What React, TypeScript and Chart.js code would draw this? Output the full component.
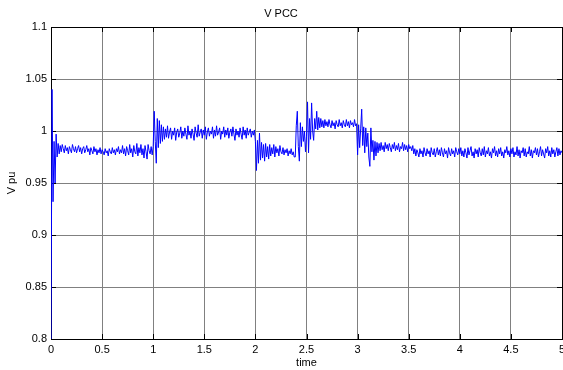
import { useEffect, useRef } from "react";
import { Chart, registerables } from "chart.js";

Chart.register(...registerables);

// Sampling interval of the logged PCC voltage (s)
const SAMPLE_STEP = 0.01;

// PCC voltage in per-unit, one array per second of simulation
const vpcc0to1 = [
  0.800, 1.040, 0.932, 0.990, 0.950, 0.997, 0.975, 0.988, 0.978, 0.986,
  0.980, 0.987, 0.983, 0.979, 0.986, 0.981, 0.984, 0.978, 0.985, 0.982,
  0.979, 0.987, 0.983, 0.980, 0.985, 0.979, 0.983, 0.986, 0.980, 0.984,
  0.978, 0.983, 0.985, 0.979, 0.982, 0.986, 0.980, 0.983, 0.977, 0.984,
  0.981, 0.978, 0.985, 0.980, 0.983, 0.977, 0.982, 0.979, 0.984, 0.978,
  0.982, 0.980, 0.977, 0.983, 0.979, 0.981, 0.976, 0.983, 0.980, 0.978,
  0.984, 0.979, 0.982, 0.977, 0.983, 0.980, 0.985, 0.978, 0.982, 0.979,
  0.986, 0.978, 0.983, 0.976, 0.985, 0.981, 0.977, 0.987, 0.979, 0.983,
  0.975, 0.986, 0.980, 0.978, 0.988, 0.976, 0.984, 0.979, 0.987, 0.977,
  0.983, 0.974, 0.986, 0.980, 0.973, 0.987, 0.981, 0.978, 0.985, 0.977,
];

const vpcc1to2 = [
  0.985, 1.019, 0.990, 0.969, 1.012, 0.984, 1.010, 0.988, 1.006, 0.990,
  1.004, 0.992, 1.002, 0.994, 1.005, 0.993, 0.999, 1.003, 0.992, 1.000,
  0.996, 1.003, 0.991, 0.999, 1.002, 0.994, 0.998, 1.004, 0.993, 1.000,
  0.995, 1.003, 0.997, 0.992, 1.005, 0.996, 1.000, 0.993, 1.002, 0.997,
  0.991, 1.004, 0.998, 0.994, 1.006, 0.995, 0.999, 1.002, 0.993, 1.001,
  0.996, 1.004, 0.992, 0.999, 1.003, 0.995, 1.000, 0.997, 1.004, 0.993,
  1.001, 0.995, 1.005, 0.996, 0.999, 1.003, 0.992, 1.000, 0.997, 1.004,
  0.994, 1.001, 0.996, 1.003, 0.993, 0.999, 1.002, 0.995, 1.004, 0.997,
  0.991, 1.002, 0.996, 1.000, 0.994, 1.003, 0.997, 0.992, 1.004, 0.996,
  1.001, 0.993, 1.003, 0.996, 0.999, 1.002, 0.994, 1.000, 0.996, 1.001,
];

const vpcc2to3 = [
  0.990, 0.962, 0.991, 0.969, 0.998, 0.972, 0.989, 0.974, 0.987, 0.971,
  0.988, 0.975, 0.985, 0.973, 0.987, 0.976, 0.984, 0.978, 0.987, 0.975,
  0.985, 0.979, 0.983, 0.976, 0.986, 0.980, 0.978, 0.984, 0.977, 0.982,
  0.979, 0.983, 0.976, 0.981, 0.978, 0.983, 0.977, 0.980, 0.975, 0.975,
  1.005, 1.019, 0.985, 0.971, 1.008, 0.985, 1.004, 0.990, 1.000, 0.980,
  0.995, 1.028, 0.979, 1.012, 0.992, 1.027, 1.000, 0.991, 1.012, 1.002,
  1.019, 1.001, 1.013, 1.003, 1.012, 1.004, 1.010, 1.003, 1.011, 1.005,
  1.009, 1.004, 1.011, 1.006, 1.003, 1.010, 1.005, 1.008, 1.002, 1.010,
  1.006, 1.004, 1.011, 1.005, 1.008, 1.003, 1.010, 1.006, 1.004, 1.011,
  1.005, 1.009, 1.003, 1.010, 1.006, 1.008, 1.004, 1.011, 1.005, 1.007,
];

const vpcc3to4 = [
  0.977, 1.006, 0.984, 1.002, 1.021, 0.986, 1.004, 0.979, 1.003, 0.985,
  0.998, 0.975, 0.966, 1.003, 0.980, 0.991, 0.972, 0.990, 0.976, 0.989,
  0.979, 0.988, 0.981, 0.989, 0.982, 0.986, 0.980, 0.989, 0.983, 0.987,
  0.981, 0.988, 0.984, 0.980, 0.987, 0.983, 0.989, 0.981, 0.986, 0.982,
  0.988, 0.980, 0.985, 0.983, 0.989, 0.981, 0.987, 0.982, 0.986, 0.980,
  0.987, 0.983, 0.985, 0.981, 0.986, 0.978, 0.983, 0.976, 0.982, 0.979,
  0.975, 0.983, 0.978, 0.981, 0.975, 0.984, 0.979, 0.976, 0.983, 0.978,
  0.981, 0.975, 0.984, 0.979, 0.977, 0.983, 0.975, 0.980, 0.984, 0.977,
  0.982, 0.976, 0.984, 0.979, 0.975, 0.983, 0.978, 0.981, 0.974, 0.984,
  0.979, 0.976, 0.983, 0.978, 0.981, 0.975, 0.984, 0.980, 0.977, 0.983,
];

const vpcc4to5 = [
  0.978, 0.984, 0.976, 0.981, 0.975, 0.983, 0.979, 0.974, 0.984, 0.977,
  0.981, 0.985, 0.976, 0.980, 0.974, 0.983, 0.978, 0.982, 0.975, 0.984,
  0.979, 0.976, 0.983, 0.977, 0.985, 0.975, 0.981, 0.978, 0.984, 0.976,
  0.980, 0.974, 0.983, 0.979, 0.985, 0.976, 0.981, 0.975, 0.983, 0.978,
  0.984, 0.976, 0.980, 0.974, 0.982, 0.979, 0.985, 0.977, 0.981, 0.975,
  0.983, 0.978, 0.984, 0.975, 0.980, 0.977, 0.985, 0.976, 0.982, 0.974,
  0.981, 0.979, 0.984, 0.976, 0.983, 0.975, 0.980, 0.978, 0.985, 0.976,
  0.982, 0.974, 0.981, 0.979, 0.984, 0.977, 0.983, 0.975, 0.980, 0.985,
  0.976, 0.982, 0.978, 0.974, 0.983, 0.979, 0.985, 0.976, 0.981, 0.975,
  0.984, 0.978, 0.982, 0.975, 0.980, 0.984, 0.976, 0.983, 0.977, 0.981,
  0.979,
];

const X_TICKS = [0, 0.5, 1, 1.5, 2, 2.5, 3, 3.5, 4, 4.5, 5];
const X_TICK_LABELS = ["0", "0.5", "1", "1.5", "2", "2.5", "3", "3.5", "4", "4.5", "5"];
const Y_TICKS = [0.8, 0.85, 0.9, 0.95, 1, 1.05, 1.1];
const Y_TICK_LABELS = ["0.8", "0.85", "0.9", "0.95", "1", "1.05", "1.1"];

const FONT_FAMILY = "'Liberation Sans', Arial, Helvetica, sans-serif";

// Black axes box with short inward tick marks on all four sides (under the trace)
const axesBox = {
  id: "axesBox",
  beforeDatasetsDraw(chart: any) {
    const { ctx, chartArea, scales } = chart;
    const { left, top, right, bottom } = chartArea;
    const len = 5;
    ctx.save();
    ctx.strokeStyle = "#000";
    ctx.lineWidth = 1;
    ctx.beginPath();
    for (const t of X_TICKS) {
      const px = Math.round(scales.x.getPixelForValue(t)) + 0.5;
      ctx.moveTo(px, bottom);
      ctx.lineTo(px, bottom - len);
      ctx.moveTo(px, top);
      ctx.lineTo(px, top + len);
    }
    for (const t of Y_TICKS) {
      const py = Math.round(scales.y.getPixelForValue(t)) + 0.5;
      ctx.moveTo(left, py);
      ctx.lineTo(left + len, py);
      ctx.moveTo(right, py);
      ctx.lineTo(right - len, py);
    }
    ctx.stroke();
    ctx.strokeRect(left + 0.5, top + 0.5, right - left, bottom - top);
    ctx.restore();
  },
};

export default function App() {
  const canvasRef = useRef<HTMLCanvasElement | null>(null);

  useEffect(() => {
    const canvas = canvasRef.current;
    if (!canvas) return;

    const vpcc = [...vpcc0to1, ...vpcc1to2, ...vpcc2to3, ...vpcc3to4, ...vpcc4to5];
    const points = vpcc.map((v, i) => ({ x: Number((i * SAMPLE_STEP).toFixed(2)), y: v }));

    const chart = new Chart(canvas, {
      type: "line",
      data: {
        datasets: [
          {
            label: "V PCC",
            data: points,
            borderColor: "#0000ff",
            borderWidth: 1,
            pointRadius: 0,
            tension: 0,
            fill: false,
          },
        ],
      },
      plugins: [axesBox],
      options: {
        animation: false,
        responsive: false,
        devicePixelRatio: 1,
        layout: { autoPadding: false, padding: { left: 0, right: 1, top: 0, bottom: 0 } },
        plugins: {
          legend: { display: false },
          tooltip: { enabled: false },
          title: {
            display: true,
            text: "V PCC",
            color: "#000",
            font: { family: FONT_FAMILY, size: 11, weight: "normal" },
            padding: { top: 7, bottom: 6.8 },
          },
        },
        scales: {
          x: {
            type: "linear",
            min: 0,
            max: 5,
            afterBuildTicks: (scale: any) => {
              scale.ticks = X_TICKS.map((v) => ({ value: v }));
            },
            afterFit: (scale: any) => {
              scale.height = 31;
              scale.paddingLeft = 0;
              scale.paddingRight = 0;
            },
            ticks: {
              color: "#000",
              padding: 4,
              maxRotation: 0,
              autoSkip: false,
              font: { family: FONT_FAMILY, size: 11 },
              callback: (value: any) => {
                const i = X_TICKS.indexOf(Number(value));
                return i >= 0 ? X_TICK_LABELS[i] : "";
              },
            },
            grid: { color: "#808080", lineWidth: 1, drawTicks: false },
            border: { display: false },
            title: {
              display: true,
              text: "time",
              color: "#000",
              font: { family: FONT_FAMILY, size: 11 },
              padding: { top: 0, bottom: 0 },
            },
          },
          y: {
            type: "linear",
            min: 0.8,
            max: 1.1,
            afterBuildTicks: (scale: any) => {
              scale.ticks = Y_TICKS.map((v) => ({ value: v }));
            },
            afterFit: (scale: any) => {
              scale.width = 51;
              scale.paddingTop = 0;
              scale.paddingBottom = 0;
            },
            ticks: {
              color: "#000",
              padding: 4,
              autoSkip: false,
              font: { family: FONT_FAMILY, size: 11 },
              callback: (value: any) => {
                const i = Y_TICKS.findIndex((t) => Math.abs(t - Number(value)) < 1e-9);
                return i >= 0 ? Y_TICK_LABELS[i] : "";
              },
            },
            grid: { color: "#808080", lineWidth: 1, drawTicks: false },
            border: { display: false },
            title: {
              display: true,
              text: "V pu",
              color: "#000",
              font: { family: FONT_FAMILY, size: 11 },
              padding: { top: 5, bottom: 0 },
            },
          },
        },
      },
    } as any);

    return () => chart.destroy();
  }, []);

  return (
    <div style={{ position: "fixed", left: 0, top: 0, width: 563, height: 370, background: "#fff" }}>
      <canvas ref={canvasRef} width={563} height={370} style={{ display: "block" }} />
    </div>
  );
}
